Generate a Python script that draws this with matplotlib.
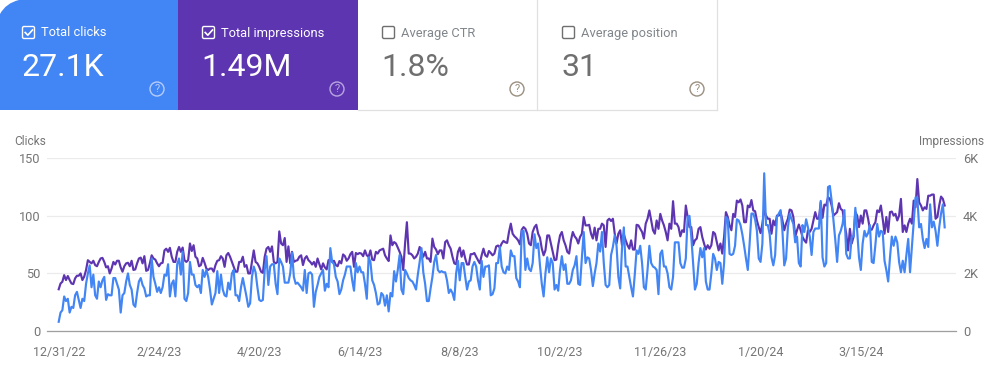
import matplotlib
matplotlib.use("Agg")
import matplotlib.pyplot as plt
from matplotlib.patches import Rectangle, FancyBboxPatch, Circle, PathPatch
from matplotlib.path import Path
import pandas as pd

plt.rcParams['font.family'] = ['Roboto', 'DejaVu Sans']

start_date = "2022-12-31"
tick_dates = ["2022-12-31", "2023-02-24", "2023-04-20", "2023-06-14", "2023-08-08",
              "2023-10-02", "2023-11-26", "2024-01-20", "2024-03-15"]
tick_labels = ["12/31/22", "2/24/23", "4/20/23", "6/14/23", "8/8/23",
               "10/2/23", "11/26/23", "1/20/24", "3/15/24"]
clicks_ticks = [0, 50, 100, 150]
impressions_ticks = [0, 2000, 4000, 6000]
impressions_tick_labels = ["0", "2K", "4K", "6K"]

clicks = [
    8,16,18,30,26,28,16,21,20,31, 34,27,20,28,26,41,50,57,38,49,
    31,28,43,38,44,47,27,32,31,31, 46,46,41,36,16,31,33,43,50,40,
    36,23,21,33,43,46,40,37,30,31, 31,63,47,41,34,38,33,38,49,48,
    58,30,41,44,30,58,63,49,69,28, 26,33,60,49,49,40,38,40,33,53,
    47,53,47,36,23,28,33,52,33,49, 36,31,30,42,36,50,53,31,31,26,
    38,46,38,30,21,24,47,56,51,38, 27,26,27,53,65,40,56,58,58,41,
    32,63,60,56,42,42,42,50,68,47, 41,42,40,38,35,53,33,50,51,49,
    21,34,40,47,50,53,35,41,38,72, 60,58,47,43,32,36,44,49,56,56,
    56,44,35,59,51,56,51,51,41,28, 64,60,44,40,33,23,24,33,31,22,
    31,17,33,30,52,43,53,66,36,32, 53,50,46,44,43,40,36,49,60,72,
    51,41,26,26,37,47,60,66,53,51, 52,51,51,44,33,36,33,27,50,61,
    44,59,59,47,36,43,44,56,60,56, 44,36,61,47,56,56,57,31,32,37,
    59,59,73,56,51,50,56,53,70,65, 65,46,43,38,87,87,53,63,54,52,
    59,84,72,76,57,41,30,50,64,51, 63,59,36,40,35,53,65,53,58,41,
    41,44,53,57,65,41,40,64,86,59, 64,63,53,39,50,59,76,69,86,59,
    40,38,40,66,73,83,74,47,37,72, 90,56,56,47,38,30,49,70,67,74,
    59,38,36,53,74,59,56,55,53,32, 67,70,56,56,50,38,36,47,77,77,
    77,59,55,55,63,99,100,82,59,36, 41,59,72,64,72,43,36,36,50,67,
    63,53,60,59,41,59,99,97,67,66, 67,74,97,96,92,84,74,63,53,76,
    102,102,97,87,63,60,76,137,92,92, 84,64,57,66,99,102,105,87,57,63,
    90,102,97,93,77,82,59,56,92,86, 97,90,82,66,86,89,89,89,113,64,
    56,59,125,126,113,96,79,60,83,87, 93,105,67,63,63,82,82,107,87,64,
    53,76,87,82,85,92,60,59,75,93, 82,87,86,61,53,43,64,82,74,82,
    77,60,51,61,51,66,80,51,73,96, 116,116,90,93,80,72,80,73,110,90,
    95,87,74,90,102,110,90,
]

impressions = [
    1450,1650,1710,1940,1770,1910,1770,1650,1630,1830, 1920,1920,2000,1770,1890,2120,2460,2400,2350,2440,
    2290,2250,2400,2520,2540,2400,2210,2250,2000,2170, 2400,2310,2440,2440,2210,2060,2250,2350,2370,2250,
    2440,2120,2140,2350,2520,2550,2350,2600,2090,2120, 2350,2630,2520,2480,2350,2250,2350,2370,2800,2860,
    2750,2890,2580,2400,2400,2750,2920,2750,2900,2460, 2400,2460,3040,2780,2980,2580,2520,2250,2290,2540,
    2370,2170,2120,2170,2170,2060,2290,2440,2460,2600, 2520,2230,2630,2710,2580,2400,2230,2060,2060,2400,
    2400,2580,2230,2290,2000,2000,2400,2800,2400,2350, 2230,2060,2020,2580,2860,2920,2750,2940,2400,2350,
    2400,3460,3040,2980,3230,2400,2940,2350,2750,2400, 2440,2460,2580,2630,2290,2520,2600,2460,2400,2310,
    2400,2230,2520,2320,2140,2350,2210,2140,2460,2480, 2400,2440,2290,2250,2430,2350,2660,2600,2440,2520,
    2670,2750,2230,2710,2670,2710,2690,2600,2800,2630, 2580,2800,2480,2460,2750,2690,2800,2830,2860,2630,
    2520,2430,3320,2980,3090,3040,2900,2750,2580,2120, 3040,3780,2690,2690,2630,2520,2580,2690,2920,2750,
    2580,2750,2520,2520,2400,3210,2920,2830,2670,2800, 2800,2520,3090,3150,2980,2860,2580,2350,2320,2750,
    2900,2580,2800,2520,2310,2310,2670,2670,2710,2580, 2460,2350,2630,2860,2630,2580,2780,2710,2630,2690,
    2940,2970,2900,3040,3130,3080,3060,3440,3730,3380, 3290,3230,3150,3010,3520,3610,3550,3380,3040,2980,
    3440,3610,3690,3380,3240,2860,2630,2800,3320,3320, 3040,2750,2460,2480,2980,3320,3440,3150,2980,2750,
    2690,3150,3440,3290,3210,3040,3270,3380,3960,3670, 3670,3690,3380,3210,3590,3150,3550,3550,3730,3670,
    2920,3840,3900,3820,3900,3380,3040,3380,3500,2980, 3360,3150,2980,2860,3150,2830,2830,3690,3670,3550,
    3440,3210,3730,3900,4190,3840,3500,3380,3840,3550, 4070,3840,3670,3440,3150,3730,3550,4510,3730,3730,
    3610,3290,3500,3440,4360,3960,3610,3610,2980,3150, 3210,3550,3610,3270,3040,2830,2980,2860,2980,3440,
    3380,3090,2800,3040,2690,3270,4130,3960,3670,3500, 4070,3960,4530,4470,4570,4360,3780,3780,4360,4300,
    4550,4190,4160,3840,3610,3400,3730,4190,4010,3900, 3900,3380,3840,3670,4010,4010,4130,3840,3500,3730,
    3900,4220,4190,3960,3270,3500,3700,3500,3270,3150, 3070,3500,3440,3550,3840,4130,3900,3900,4470,3930,
    4390,4360,4650,4590,4360,4010,4070,4130,4440,4240, 4190,3730,3380,2800,3550,3040,3270,4130,4010,3610,
    4010,3730,4190,4190,3900,3520,3520,3670,3780,4190, 4130,4360,3900,3380,3960,3440,4130,4150,4010,4070,
    3840,4010,4590,3440,3670,3440,3730,3900,3730,4530, 4300,5280,4470,4360,4190,4300,4240,4700,4700,4740,
    4740,3900,3960,4360,4670,4590,4360,
]

card_titles = ["Total clicks", "Total impressions", "Average CTR", "Average position"]
card_values = ["27.1K", "1.49M", "1.8%", "31"]

W, H = 988, 373
fig = plt.figure(figsize=(W / 100, H / 100), dpi=100, facecolor="white")

# chart axes
L, R, Y0, Y150 = 47, 956, 331, 158.3
ax = fig.add_axes([L / W, 1 - Y0 / H, (R - L) / W, (Y0 - Y150) / H])
ax2 = ax.twinx()
dates = pd.date_range(start_date, periods=len(clicks))
dates2 = pd.date_range(start_date, periods=len(impressions))
BLUE, PURPLE = "#4285f4", "#5e35b1"
GREY = "#757575"

ax.set_zorder(2); ax2.set_zorder(1); ax.patch.set_visible(False)
ax2.plot(dates2, impressions, color=PURPLE, lw=1.55, solid_joinstyle="round")
ax.plot(dates, clicks, color=BLUE, lw=1.55, solid_joinstyle="round")

t0 = pd.Timestamp(start_date)
px_per_day = 1.823
x0 = t0 - pd.Timedelta(days=(58.7 - L) / px_per_day)
x1 = t0 + pd.Timedelta(days=(R - 58.7) / px_per_day)
for a in (ax, ax2):
    a.set_xlim(x0, x1)
    for s in a.spines.values():
        s.set_visible(False)
ax.set_ylim(0, 150)
ax2.set_ylim(0, 6000)
ax.set_yticks(clicks_ticks)
ax2.set_yticks(impressions_ticks, impressions_tick_labels)
ax.set_xticks(pd.to_datetime(tick_dates), tick_labels)
ax2.grid(axis="y", color="#ebebeb", lw=0.9)
ax2.set_axisbelow(True)
ax.spines["bottom"].set_visible(True)
ax.spines["bottom"].set_color("#9e9e9e")
ax.spines["bottom"].set_linewidth(0.9)
ax.tick_params(axis="x", length=0, pad=11, labelsize=9, labelcolor=GREY)
ax.tick_params(axis="y", length=0, pad=4.5, labelsize=9.2, labelcolor=GREY)
ax2.tick_params(axis="y", length=0, pad=5, labelsize=9.2, labelcolor=GREY)

# overlay in pixel coordinates
ov = fig.add_axes([0, 0, 1, 1], zorder=5)
ov.set_xlim(0, W); ov.set_ylim(H, 0); ov.axis("off"); ov.patch.set_visible(False)

ov.text(14, 141.5, "Clicks", fontsize=8.6, color=GREY, va="center", ha="left")
ov.text(984, 141.5, "Impressions", fontsize=8.6, color=GREY, va="center", ha="right")

# cards
verts = [(0, 110), (0, 14), (6, 3), (19, 0), (178, 0), (178, 110), (0, 110)]
codes = [Path.MOVETO, Path.LINETO, Path.CURVE3, Path.CURVE3, Path.LINETO, Path.LINETO, Path.CLOSEPOLY]
ov.add_patch(PathPatch(Path(verts, codes), fc=BLUE, ec="none"))
ov.add_patch(Rectangle((178, 0), 180, 110, fc=PURPLE, ec="none"))
ov.plot([358, 717], [109.5, 109.5], color="#e0e0e0", lw=0.9)
ov.plot([537.2, 537.2], [0, 110], color="#e0e0e0", lw=0.9)
ov.plot([717, 717], [0, 110], color="#e0e0e0", lw=0.9)

card_x = [22, 202, 382, 562]
q_x = [157, 337, 517, 697]
for i, (cx, qx, title, value) in enumerate(zip(card_x, q_x, card_titles, card_values)):
    active = i < 2
    tcol = "white" if active else "#80868b"
    vcol = "white" if active else "#6f6f6f"
    box = "white" if active else "#6f6f6f"
    ov.add_patch(FancyBboxPatch((cx + 0.5, 26.5), 12, 12, boxstyle="round,pad=0,rounding_size=1.5",
                                fc="none", ec=box, lw=1.0))
    if active:
        ov.plot([cx + 3.2, cx + 5.8, cx + 10.5], [32.5, 35.2, 30], color="white", lw=1.2)
    ov.text(cx + 19, 33, title, fontsize=9.3, color=tcol, va="center", ha="left")
    ov.text(cx - 0.5, 68, value, fontsize=23, color=vcol, va="center", ha="left")
    qcol = "#b6cdfa" if i == 0 else ("#b9a6e0" if i == 1 else "#9a8f80")
    ov.add_patch(Circle((qx, 89), 7, fc="none", ec=qcol, lw=1.0))
    ov.text(qx, 89.3, "?", fontsize=8, color=qcol, va="center", ha="center")

fig.savefig("out.png", dpi=100)
